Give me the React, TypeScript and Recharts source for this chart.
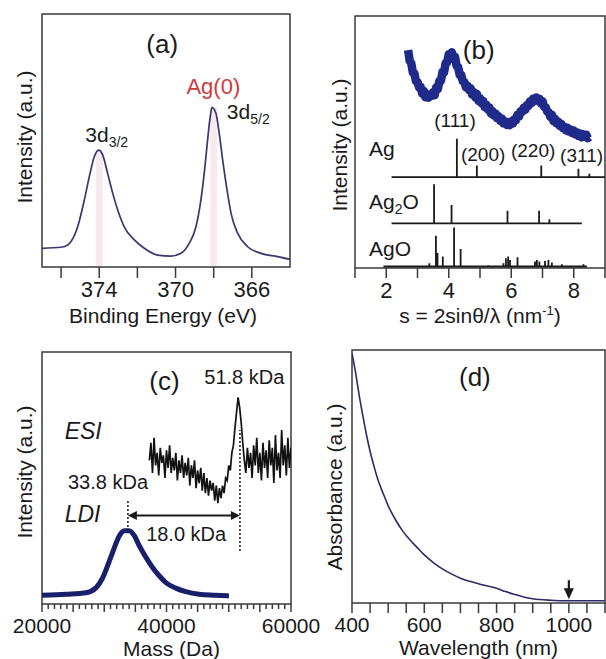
import React from 'react';
import { LineChart, Line, XAxis, YAxis, ReferenceArea, ReferenceLine, ReferenceDot, Label } from 'recharts';

const FONT = '"Liberation Sans", Arial, Helvetica, sans-serif';
const INK = '#1a1a1a';
const FRAME = '#3a3a3a';

// ---------- (a) XPS ----------
const xpsEnergy = [377.0, 376.0, 375.65, 375.13, 374.78, 374.52, 374.26, 374.03, 373.82, 373.56, 373.29, 373.03, 372.69, 372.16, 371.64, 370.94, 370.24, 369.71, 369.28, 368.93, 368.67, 368.46, 368.32, 368.18, 368.09, 367.88, 367.71, 367.53, 367.3, 367.09, 366.74, 366.22, 365.52, 364.65, 364.0];
const xpsIntensity = [7.4, 7.8, 8.7, 15.9, 26.5, 35.7, 43.6, 46.2, 44.3, 37.0, 29.1, 22.5, 15.9, 10.7, 7.4, 4.7, 4.3, 5.4, 9.4, 15.9, 26.5, 39.6, 50.2, 59.4, 63.1, 60.7, 52.8, 42.3, 30.4, 21.2, 13.3, 8.0, 5.4, 4.1, 3.0];
const xpsTicks = [376, 374, 372, 370, 368, 366];
const xpsTickLabels = [374, 370, 366];
const xpsBandCenters = [374.0, 368.0];
const xpsBandTops = [46.2, 63.1];

// ---------- (b) XRD ----------
const xrdStart = 2.7;
const xrdStep = 0.05;
const xrdIntensity = [86.5, 82.2, 81.3, 77.6, 77.3, 74.1, 73.8, 71.7, 71.8, 69.2, 70.3, 67.8, 68.9, 67.6, 68.9, 68.3, 69.8, 68.6, 71.7, 71.0, 74.2, 74.3, 77.8, 77.7, 81.3, 81.6, 84.8, 84.3, 85.6, 82.9, 83.8, 80.2, 79.7, 76.6, 76.6, 74.1, 73.8, 71.7, 72.3, 70.6, 71.3, 68.8, 69.8, 67.7, 69.1, 66.3, 67.4, 65.4, 66.3, 63.8, 64.8, 62.9, 63.7, 61.3, 62.3, 60.4, 61.3, 59.4, 60.2, 58.4, 59.3, 57.4, 58.2, 56.8, 57.8, 56.7, 58.2, 57.3, 59.1, 58.7, 60.8, 60.1, 62.2, 61.9, 63.6, 62.8, 64.7, 64.3, 66.1, 65.4, 67.2, 66.3, 67.7, 66.9, 67.2, 65.3, 66.2, 63.9, 63.8, 62.1, 61.8, 59.9, 60.8, 58.3, 59.2, 57.4, 58.1, 56.4, 57.2, 55.5, 56.1, 54.6, 55.7, 54.1, 55.0, 53.5, 54.6, 53.0, 53.9, 52.4, 53.4, 51.9, 53.1, 52.1, 52.9, 51.5, 52.0];
const agBase = 36.1, agRange = [2.17, 9.0];
const agPeaks: [number, number][] = [[4.26, 15.2], [4.9, 4.6], [6.96, 4.6], [8.15, 3.3], [8.5, 1.3]];
const ag2oBase = 17.7, ag2oRange = [2.17, 8.26];
const ag2oPeaks: [number, number][] = [[3.53, 15.5], [4.09, 7.3], [5.88, 5.0], [6.89, 5.0], [7.22, 1.6]];
const agoBase = 0.6, agoRange = [1.91, 8.42];
const agoPeaks: [number, number][] = [[3.38, 1.3], [3.59, 12.2], [3.64, 5.4], [3.81, 4.0], [4.17, 15.5], [4.38, 6.9], [5.27, 0.5], [5.75, 1.3], [5.83, 3.3], [5.9, 4.0], [5.96, 2.6], [6.2, 3.7], [6.76, 2.0], [6.82, 2.6], [6.9, 2.0], [7.08, 2.2], [7.19, 2.6], [7.3, 1.6], [7.62, 0.9], [8.31, 0.9]];
const sTicks = [1, 2, 3, 4, 5, 6, 7, 8, 9];
const sTickLabels = [2, 4, 6, 8];

// ---------- (c) Mass spectra ----------
const ldiMass = [20000, 23900, 27100, 28700, 29760, 30830, 31630, 32430, 33230, 34030, 34830, 35630, 36700, 37760, 38830, 39900, 41500, 43100, 45230, 47900, 50030];
const ldiIntensity = [3.5, 3.9, 4.5, 6.5, 10.5, 17.1, 22.4, 27.1, 29.1, 29.1, 27.1, 23.1, 18.5, 14.5, 11.2, 8.5, 6.3, 4.9, 3.9, 3.5, 3.2];
const esiStart = 37250;
const esiStep = 250;
const esiIntensity = [57, 64, 52, 66, 55, 60, 51, 62, 56, 59, 50, 61, 54, 63, 52, 58, 53, 60, 49, 57, 52, 59, 50, 56, 51, 58, 47, 55, 50, 57, 46, 53, 48, 54, 45, 52, 44, 50, 43, 49, 45, 48, 41, 47, 40, 46, 42, 47, 44, 50, 49, 55, 53, 60, 63, 70, 76, 82, 78, 72, 64, 57, 52, 62, 54, 60, 50, 63, 55, 66, 52, 60, 49, 64, 54, 61, 50, 65, 55, 62, 48, 67, 53, 60, 50, 69, 55, 63, 51, 66, 54, 62];
const massTickLabels = [20000, 40000, 60000];
const massTicks = Array.from({ length: 41 }, (_, i) => 20000 + i * 1000);
const ldiPeakMass = 33800;
const esiPeakMass = 51800;

// ---------- (d) UV-vis ----------
const uvWavelength = [400, 410, 420, 430, 440, 450, 460, 470, 480, 490, 500, 520, 540, 560, 580, 600, 625, 650, 675, 700, 725, 750, 775, 800, 825, 850, 875, 900, 950, 1000, 1050, 1100];
const uvAbsorbance = [98.7, 91, 82, 74, 66.5, 60, 54.5, 49.5, 45.5, 42, 38.5, 33, 28.5, 25, 22, 19, 16, 13.5, 11.5, 9.8, 8.6, 7.6, 6.7, 5.8, 4.5, 3.4, 2.4, 1.7, 1.1, 0.9, 0.9, 0.9];
const uvTicks = [400, 450, 500, 550, 600, 650, 700, 750, 800, 850, 900, 950, 1000, 1050, 1100];
const uvTickLabels = [400, 600, 800, 1000];
const uvMarker = 1000;

// ---------- helpers ----------
const xpsData = xpsEnergy.map((x, i) => ({ x, y: xpsIntensity[i] }));
const xrdData = xrdIntensity.map((y, i) => ({ x: +(xrdStart + i * xrdStep).toFixed(3), y }));
function sticks(base: number, range: number[], peaks: [number, number][]) {
  const pts = [{ x: range[0], y: base }];
  peaks.forEach(([s, h]) => {
    pts.push({ x: s, y: base }, { x: s, y: base + h }, { x: s, y: base });
  });
  pts.push({ x: range[1], y: base });
  return pts;
}
const agData = sticks(agBase, agRange, agPeaks);
const ag2oData = sticks(ag2oBase, ag2oRange, ag2oPeaks);
const agoData = sticks(agoBase, agoRange, agoPeaks);
const ldiData = ldiMass.map((x, i) => ({ x, y: ldiIntensity[i] }));
const esiData = esiIntensity.map((y, i) => ({ x: esiStart + i * esiStep, y }));
const uvData = uvWavelength.map((x, i) => ({ x, y: uvAbsorbance[i] }));

function makeTick(labels: number[], len: (v: number) => number, offset: number, size: number) {
  return (props: any) => {
    const { x, y, payload } = props;
    const v = payload.value;
    return (
      <g>
        <line x1={x} y1={y} x2={x} y2={y + len(v)} stroke={FRAME} strokeWidth={1.5} />
        {labels.includes(v) && (
          <text x={x} y={y + offset + size * 0.36} textAnchor="middle" fontSize={size} fontFamily={FONT} fill={INK}>
            {v}
          </text>
        )}
      </g>
    );
  };
}

// rotated axis title placed at the given chart coordinates
const yTitle = (text: string, cx: number, cy: number, size = 21) => () => (
  <text x={cx} y={cy + size * 0.36} transform={`rotate(-90 ${cx} ${cy})`} textAnchor="middle" fontSize={size} fontFamily={FONT} fill={INK}>
    {text}
  </text>
);

const xTitle = (content: React.ReactNode, dx: number, dy: number, size = 21) => (props: any) => {
  const vb = props.viewBox || { x: 0, y: 0, width: 0, height: 0 };
  const cx = vb.x + vb.width / 2 + dx;
  const cy = vb.y + dy;
  return (
    <text x={cx} y={cy + size * 0.36} textAnchor="middle" fontSize={size} fontFamily={FONT} fill={INK}>
      {content}
    </text>
  );
};

const txt = (content: React.ReactNode, size: number, opts: { anchor?: string; fill?: string; italic?: boolean } = {}) => (p: any) => (
  <text
    x={p.cx}
    y={p.cy + size * 0.36}
    textAnchor={opts.anchor || 'middle'}
    fontSize={size}
    fontFamily={FONT}
    fill={opts.fill || INK}
    fontStyle={opts.italic ? 'italic' : 'normal'}
  >
    {content}
  </text>
);

const doubleArrow = (p: any) => {
  const { x1, y1, x2, y2 } = p;
  const h = 9, w = 4.5;
  return (
    <g>
      <line x1={x1 + h - 1} y1={y1} x2={x2 - h + 1} y2={y2} stroke={INK} strokeWidth={2} />
      <polygon points={`${x1},${y1} ${x1 + h},${y1 - w} ${x1 + h},${y1 + w}`} fill={INK} />
      <polygon points={`${x2},${y2} ${x2 - h},${y2 - w} ${x2 - h},${y2 + w}`} fill={INK} />
    </g>
  );
};

const downArrow = (p: any) => {
  const { x1, y1, x2, y2 } = p;
  return (
    <g>
      <line x1={x1} y1={y1} x2={x2} y2={y2 - 8} stroke={INK} strokeWidth={2.2} />
      <polygon points={`${x2},${y2} ${x2 - 5},${y2 - 11} ${x2 + 5},${y2 - 11}`} fill={INK} />
    </g>
  );
};

const frame = (x1: number, x2: number) => (
  <ReferenceArea x1={x1} x2={x2} y1={0} y2={100} fill="none" stroke={FRAME} strokeWidth={1.5} ifOverflow="visible" />
);

const box = (left: number, top: number, w: number, h: number): React.CSSProperties => ({
  position: 'absolute', left, top, width: w, height: h,
});

const yAxisProps = {
  type: 'number' as const,
  domain: [0, 100] as [number, number],
  allowDataOverflow: true,
  width: 1,
  tick: false,
  tickLine: false,
  axisLine: false,
};

export default function App() {
  return (
    <div style={{ position: 'absolute', left: 0, top: 0, width: 606, height: 659, background: '#fff', fontFamily: FONT }}>
      {/* (a) */}
      <div style={box(0, 0, 303, 335)}>
        <LineChart width={303} height={335} margin={{ top: 14, right: 13, bottom: 38, left: 41 }}>
          <XAxis type="number" dataKey="x" domain={[364, 377]} reversed allowDataOverflow ticks={xpsTicks} interval={0}
            tickSize={0} tickMargin={0} tickLine={false} axisLine={false} height={30}
            tick={makeTick(xpsTickLabels, () => 11, 22, 22)}>
            <Label content={xTitle('Binding Energy (eV)', -3, 48)} />
          </XAxis>
          <YAxis {...yAxisProps}>
            <Label content={yTitle('Intensity (a.u.)', 24, 137)} />
          </YAxis>
          {xpsBandCenters.map((c, i) => (
            <ReferenceArea key={i} x1={c + 0.18} x2={c - 0.18} y1={0} y2={xpsBandTops[i]} fill="#f2d3df" stroke="none" />
          ))}
          <Line data={xpsData} dataKey="y" type="monotone" stroke="#38386f" strokeWidth={1.7} dot={false} isAnimationActive={false} />
          {frame(377, 364)}
          <ReferenceDot x={370.7} y={88.4} r={0} ifOverflow="visible" shape={txt('(a)', 26)} />
          <ReferenceDot x={368.02} y={71.5} r={0} ifOverflow="visible" shape={txt('Ag(0)', 22, { fill: '#cf3a3c' })} />
          <ReferenceDot x={367.31} y={61.5} r={0} ifOverflow="visible"
            shape={txt(<><tspan>3d</tspan><tspan dy={5} fontSize={14}>5/2</tspan></>, 21, { anchor: 'start' })} />
          <ReferenceDot x={374.73} y={52.3} r={0} ifOverflow="visible"
            shape={txt(<><tspan>3d</tspan><tspan dy={5} fontSize={14}>3/2</tspan></>, 21, { anchor: 'start' })} />
        </LineChart>
      </div>

      {/* (b) */}
      <div style={box(303, 0, 303, 335)}>
        <LineChart width={303} height={335} margin={{ top: 16, right: 1, bottom: 37, left: 51 }}>
          <XAxis type="number" dataKey="x" domain={[1, 9]} allowDataOverflow ticks={sTicks} interval={0}
            tickSize={0} tickMargin={0} tickLine={false} axisLine={false} height={30}
            tick={makeTick(sTickLabels, () => 10, 22, 22)}>
            <Label content={xTitle(<><tspan>s = 2sinθ/λ (nm</tspan><tspan dy={-8} fontSize={13}>-1</tspan><tspan dy={8}>)</tspan></>, 0, 47)} />
          </XAxis>
          <YAxis {...yAxisProps}>
            <Label content={yTitle('Intensity (a.u.)', 36, 145)} />
          </YAxis>
          <Line data={xrdData} dataKey="y" type="linear" stroke="#1f2a8a" strokeWidth={8.5} strokeLinejoin="round" dot={false} isAnimationActive={false} />
          <Line data={agData} dataKey="y" type="linear" stroke={INK} strokeWidth={1.8} dot={false} isAnimationActive={false} />
          <Line data={ag2oData} dataKey="y" type="linear" stroke={INK} strokeWidth={1.8} dot={false} isAnimationActive={false} />
          <Line data={agoData} dataKey="y" type="linear" stroke={INK} strokeWidth={1.8} dot={false} isAnimationActive={false} />
          {frame(1, 9)}
          <ReferenceDot x={4.96} y={86.5} r={0} ifOverflow="visible" shape={txt('(b)', 26)} />
          <ReferenceDot x={4.2} y={58.5} r={0} ifOverflow="visible" shape={txt('(111)', 19)} />
          <ReferenceDot x={5.1} y={45} r={0} ifOverflow="visible" shape={txt('(200)', 19)} />
          <ReferenceDot x={6.7} y={46.8} r={0} ifOverflow="visible" shape={txt('(220)', 19)} />
          <ReferenceDot x={8.25} y={44.8} r={0} ifOverflow="visible" shape={txt('(311)', 19)} />
          <ReferenceDot x={1.45} y={47.5} r={0} ifOverflow="visible" shape={txt('Ag', 21, { anchor: 'start' })} />
          <ReferenceDot x={1.45} y={26.6} r={0} ifOverflow="visible"
            shape={txt(<><tspan>Ag</tspan><tspan dy={5} fontSize={14}>2</tspan><tspan dy={-5}>O</tspan></>, 21, { anchor: 'start' })} />
          <ReferenceDot x={1.45} y={7.8} r={0} ifOverflow="visible" shape={txt('AgO', 21, { anchor: 'start' })} />
        </LineChart>
      </div>

      {/* (c) */}
      <div style={box(0, 330, 340, 329)}>
        <LineChart width={340} height={329} margin={{ top: 22, right: 49, bottom: 25, left: 41 }}>
          <XAxis type="number" dataKey="x" domain={[20000, 60000]} allowDataOverflow ticks={massTicks} interval={0}
            tickSize={0} tickMargin={0} tickLine={false} axisLine={false} height={30}
            tick={makeTick(massTickLabels, (v) => (v % 5000 === 0 ? 8 : 5), 21, 21)}>
            <Label content={xTitle('Mass (Da)', 5, 44)} />
          </XAxis>
          <YAxis {...yAxisProps}>
            <Label content={yTitle('Intensity (a.u.)', 24, 142)} />
          </YAxis>
          <Line data={ldiData} dataKey="y" type="monotone" stroke="#1a1f6b" strokeWidth={5} dot={false} isAnimationActive={false} />
          <Line data={esiData} dataKey="y" type="linear" stroke="#111" strokeWidth={1.7} dot={false} isAnimationActive={false} />
          <ReferenceLine segment={[{ x: ldiPeakMass, y: 29 }, { x: ldiPeakMass, y: 41 }]} stroke={INK} strokeWidth={1.5} strokeDasharray="2 2" ifOverflow="visible" />
          <ReferenceLine segment={[{ x: esiPeakMass, y: 21 }, { x: esiPeakMass, y: 69 }]} stroke={INK} strokeWidth={1.5} strokeDasharray="2 2" ifOverflow="visible" />
          <ReferenceLine segment={[{ x: ldiPeakMass, y: 35.1 }, { x: esiPeakMass, y: 35.1 }]} shape={doubleArrow} ifOverflow="visible" />
          {frame(20000, 60000)}
          <ReferenceDot x={39680} y={88.8} r={0} ifOverflow="visible" shape={txt('(c)', 26)} />
          <ReferenceDot x={52500} y={90} r={0} ifOverflow="visible" shape={txt('51.8 kDa', 20)} />
          <ReferenceDot x={23640} y={68.9} r={0} ifOverflow="visible" shape={txt('ESI', 23, { anchor: 'start', italic: true })} />
          <ReferenceDot x={24170} y={48.3} r={0} ifOverflow="visible" shape={txt('33.8 kDa', 20, { anchor: 'start' })} />
          <ReferenceDot x={23640} y={35.9} r={0} ifOverflow="visible" shape={txt('LDI', 23, { anchor: 'start', italic: true })} />
          <ReferenceDot x={43160} y={27.8} r={0} ifOverflow="visible" shape={txt('18.0 kDa', 20)} />
        </LineChart>
      </div>

      {/* (d) */}
      <div style={box(303, 330, 303, 329)}>
        <LineChart width={303} height={329} margin={{ top: 20, right: 1, bottom: 26, left: 48 }}>
          <XAxis type="number" dataKey="x" domain={[400, 1100]} allowDataOverflow ticks={uvTicks} interval={0}
            tickSize={0} tickMargin={0} tickLine={false} axisLine={false} height={30}
            tick={makeTick(uvTickLabels, () => 10, 21, 21)}>
            <Label content={xTitle('Wavelength (nm)', 0, 44)} />
          </XAxis>
          <YAxis {...yAxisProps}>
            <Label content={yTitle('Absorbance (a.u.)', 31, 157)} />
          </YAxis>
          <Line data={uvData} dataKey="y" type="monotone" stroke="#2d2a6a" strokeWidth={1.6} dot={false} isAnimationActive={false} />
          <ReferenceLine segment={[{ x: uvMarker, y: 9 }, { x: uvMarker, y: 1.5 }]} shape={downArrow} ifOverflow="visible" />
          {frame(400, 1100)}
          <ReferenceDot x={740} y={89.3} r={0} ifOverflow="visible" shape={txt('(d)', 26)} />
        </LineChart>
      </div>
    </div>
  );
}
